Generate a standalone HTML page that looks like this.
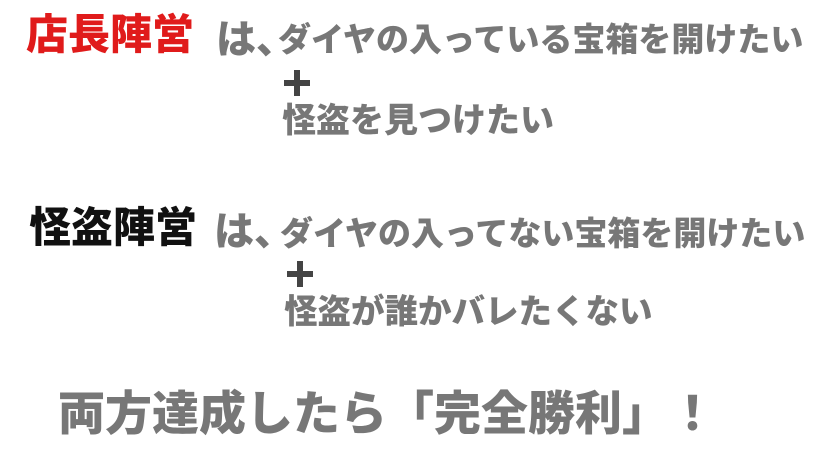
<!DOCTYPE html>
<html><head><meta charset="utf-8"><style>
body{margin:0;width:828px;height:466px;background:#fff;position:relative;overflow:hidden;font-family:"Liberation Sans","Noto Sans CJK JP",sans-serif;font-weight:900}
div{position:absolute;white-space:nowrap;line-height:1;letter-spacing:0}
.g{color:#777}
.p{background:#444}
</style></head><body>
<div style="left:26px;top:14px;font-size:42px;color:#e01b1b">店長陣営</div>
<div class="g" style="left:216px;top:20px;font-size:40px">は、</div>
<div class="g" style="left:278px;top:23px;font-size:33px">ダイヤの入っている宝箱を開けたい</div>
<div class="p" style="left:284px;top:80px;width:26px;height:6px"></div>
<div class="p" style="left:294px;top:70px;width:6px;height:26px"></div>
<div class="g" style="left:282px;top:104px;font-size:34px">怪盗を見つけたい</div>

<div style="left:29px;top:207px;font-size:42px;color:#111">怪盗陣営</div>
<div class="g" style="left:214px;top:212px;font-size:40px">は、</div>
<div class="g" style="left:280px;top:217px;font-size:33px">ダイヤの入ってない宝箱を開けたい</div>
<div class="p" style="left:287px;top:271px;width:26px;height:6px"></div>
<div class="p" style="left:297px;top:261px;width:6px;height:26px"></div>
<div class="g" style="left:284px;top:296px;font-size:33.5px">怪盗が誰かバレたくない</div>

<div class="g" style="left:58px;top:390px;font-size:47px">両方達成したら「完全勝利」！</div>
</body></html>
